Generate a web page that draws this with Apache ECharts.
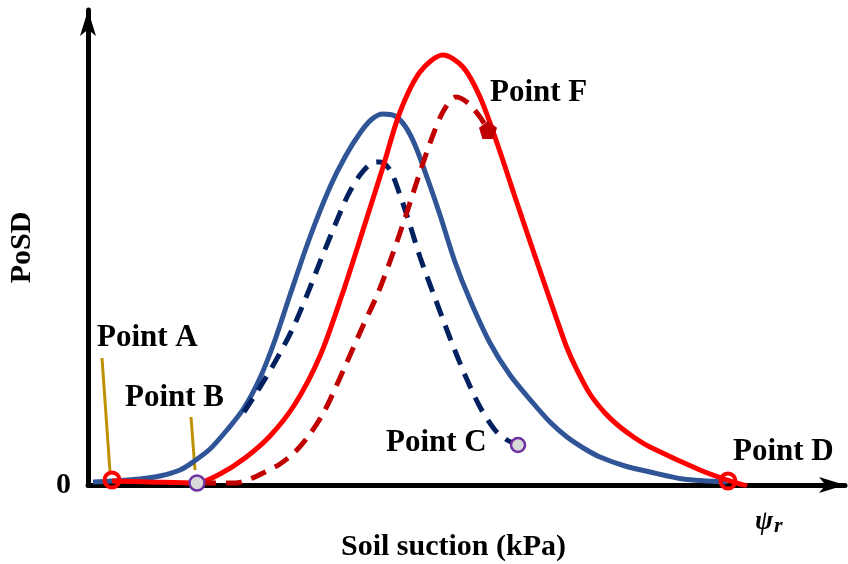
<!DOCTYPE html>
<html>
<head>
<meta charset="utf-8">
<script src="https://cdn.jsdelivr.net/npm/echarts@6/dist/echarts.min.js"></script>
<style>
  html, body { margin: 0; padding: 0; background: #ffffff; }
  #chart { width: 848px; height: 564px; }
</style>
</head>
<body>
<div id="chart"></div>
<script>
// Pore-size distribution curves (arbitrary units: suction along x, PoSD along y)
const blueSolid = [
  [5, 3], [24, 4], [52, 6], [72, 9], [92, 15], [105, 23], [122, 36], [139, 55],
  [156, 77], [172, 107], [187, 145], [202, 190], [222, 248], [242, 298], [257, 328],
  [272, 352], [284, 366], [295, 371], [307, 369], [317, 359], [327, 340], [340, 305],
  [352, 270], [367, 223], [382, 185], [402, 142], [422, 110], [445, 82], [462, 63],
  [479, 48], [497, 36], [512, 28], [537, 19], [562, 13], [595, 6], [639, 3]
];
const blueDashed = [
  [156, 73], [169, 93], [187, 123], [204, 155], [219, 190], [232, 223], [247, 260],
  [260, 290], [272, 310], [284, 322], [292, 323], [302, 315], [312, 290], [322, 260],
  [332, 228], [347, 187], [362, 147], [377, 110], [392, 78], [407, 55], [419, 45], [430, 40]
];
const redSolid = [
  [24, 4], [62, 3], [109, 2], [132, 11], [157, 27], [182, 49], [207, 81], [232, 129],
  [254, 190], [275, 255], [295, 318], [312, 373], [332, 413], [355, 430], [375, 418],
  [392, 388], [409, 342], [429, 282], [449, 223], [469, 165], [479, 137], [489, 115],
  [502, 91], [517, 72], [532, 58], [547, 47], [562, 38], [612, 15], [639, 5], [659, -1]
];
const redDashed = [
  [112, 2], [147, 2], [162, 6], [177, 13], [192, 21], [207, 33], [222, 51], [237, 75],
  [259, 123], [274, 157], [290, 192], [305, 232], [319, 273], [332, 313], [345, 350],
  [356, 375], [368, 388], [380, 382], [392, 368], [400, 355]
];
// Marked points
const pointA = [24, 5];
const pointB = [109, 2];
const pointC = [430, 40];
const pointD = [640, 4];
const pointF = [400, 355];
// Leader lines from the labels down to points A and B
const leaderA = [[14, 127], [22, 13]];
const leaderB = [[103, 68], [107, 15]];

const SERIF = '"Liberation Serif", "Times New Roman", serif';

const chart = echarts.init(document.getElementById('chart'), null, { renderer: 'canvas' });

function curve(data, color, dashed) {
  return {
    type: 'line', data: data, smooth: 0.3, symbol: 'none', silent: true,
    lineStyle: { color: color, width: 5, type: dashed ? [16, 10] : 'solid', cap: 'butt' },
    z: 3
  };
}
function leader(data) {
  return {
    type: 'line', data: data, symbol: 'none', silent: true,
    lineStyle: { color: '#BF9000', width: 3 }, z: 2
  };
}
function marker(pt, symbol, size, fill, border, bw) {
  return {
    type: 'scatter', data: [pt], symbol: symbol, symbolSize: size, silent: true,
    itemStyle: { color: fill, borderColor: border, borderWidth: bw, opacity: 1 }, z: 5
  };
}
function label(text, x, y) {
  return {
    type: 'text', x: x, y: y, z: 10,
    style: { text: text, fill: '#000', font: 'bold 31px ' + SERIF, align: 'left', verticalAlign: 'middle' }
  };
}

const pentagon = 'path://M50,0 L100,38 L81,100 L19,100 L0,38 Z';

chart.setOption({
  animation: false,
  backgroundColor: '#ffffff',
  grid: { left: 88, right: 3, top: 10, bottom: 79, containLabel: false, outerBoundsMode: 'none' },
  xAxis: {
    type: 'value', min: 0, max: 757,
    name: 'Soil suction (kPa)', nameLocation: 'middle', nameGap: 47,
    nameTextStyle: { fontFamily: SERIF, fontWeight: 'bold', fontSize: 30, color: '#000', padding: [0, 26, 0, 0] },
    axisLine: { show: true, symbol: ['none', 'arrow'], symbolSize: [12, 26], lineStyle: { color: '#000', width: 5 } },
    axisTick: { show: false }, axisLabel: { show: false }, splitLine: { show: false }
  },
  yAxis: {
    type: 'value', min: 0, max: 475, interval: 475,
    name: 'PoSD', nameLocation: 'middle', nameGap: 51, nameRotate: 90,
    nameTextStyle: { fontFamily: SERIF, fontWeight: 'bold', fontSize: 30, color: '#000' },
    axisLine: { show: true, symbol: ['none', 'arrow'], symbolSize: [12, 26], lineStyle: { color: '#000', width: 5 } },
    axisTick: { show: false }, splitLine: { show: false },
    axisLabel: {
      show: true, margin: 17, color: '#000', fontFamily: SERIF, fontWeight: 'bold', fontSize: 30,
      formatter: function (v) { return v === 0 ? '0' : ''; }
    }
  },
  series: [
    curve(blueSolid, '#2F5597', false),
    curve(blueDashed, '#002060', true),
    curve(redSolid, '#FF0000', false),
    curve(redDashed, '#C00000', true),
    leader(leaderA),
    leader(leaderB),
    marker(pointA, 'circle', 15, 'rgba(255,255,255,0)', '#FF0000', 4),
    marker(pointB, 'circle', 15, '#D9D9D9', '#7030A0', 2.5),
    marker(pointC, 'circle', 14, '#D9D9D9', '#7030A0', 2.5),
    marker(pointD, 'circle', 15, 'rgba(255,255,255,0)', '#FF0000', 4),
    marker(pointF, pentagon, 18, '#C00000', '#C00000', 0)
  ],
  graphic: [
    label('Point A', 97, 338),
    label('Point B', 125, 398),
    label('Point C', 386, 443),
    label('Point D', 733, 452),
    label('Point F', 490, 93),
    {
      type: 'text', x: 755, y: 522, z: 10,
      style: {
        text: '{a|ψ}{b|r}', align: 'left', verticalAlign: 'middle',
        rich: {
          a: { font: 'italic bold 27px ' + SERIF, fill: '#000' },
          b: { font: 'italic bold 22px ' + SERIF, fill: '#000', padding: [8, 0, 0, 1] }
        }
      }
    }
  ]
});
</script>
</body>
</html>
